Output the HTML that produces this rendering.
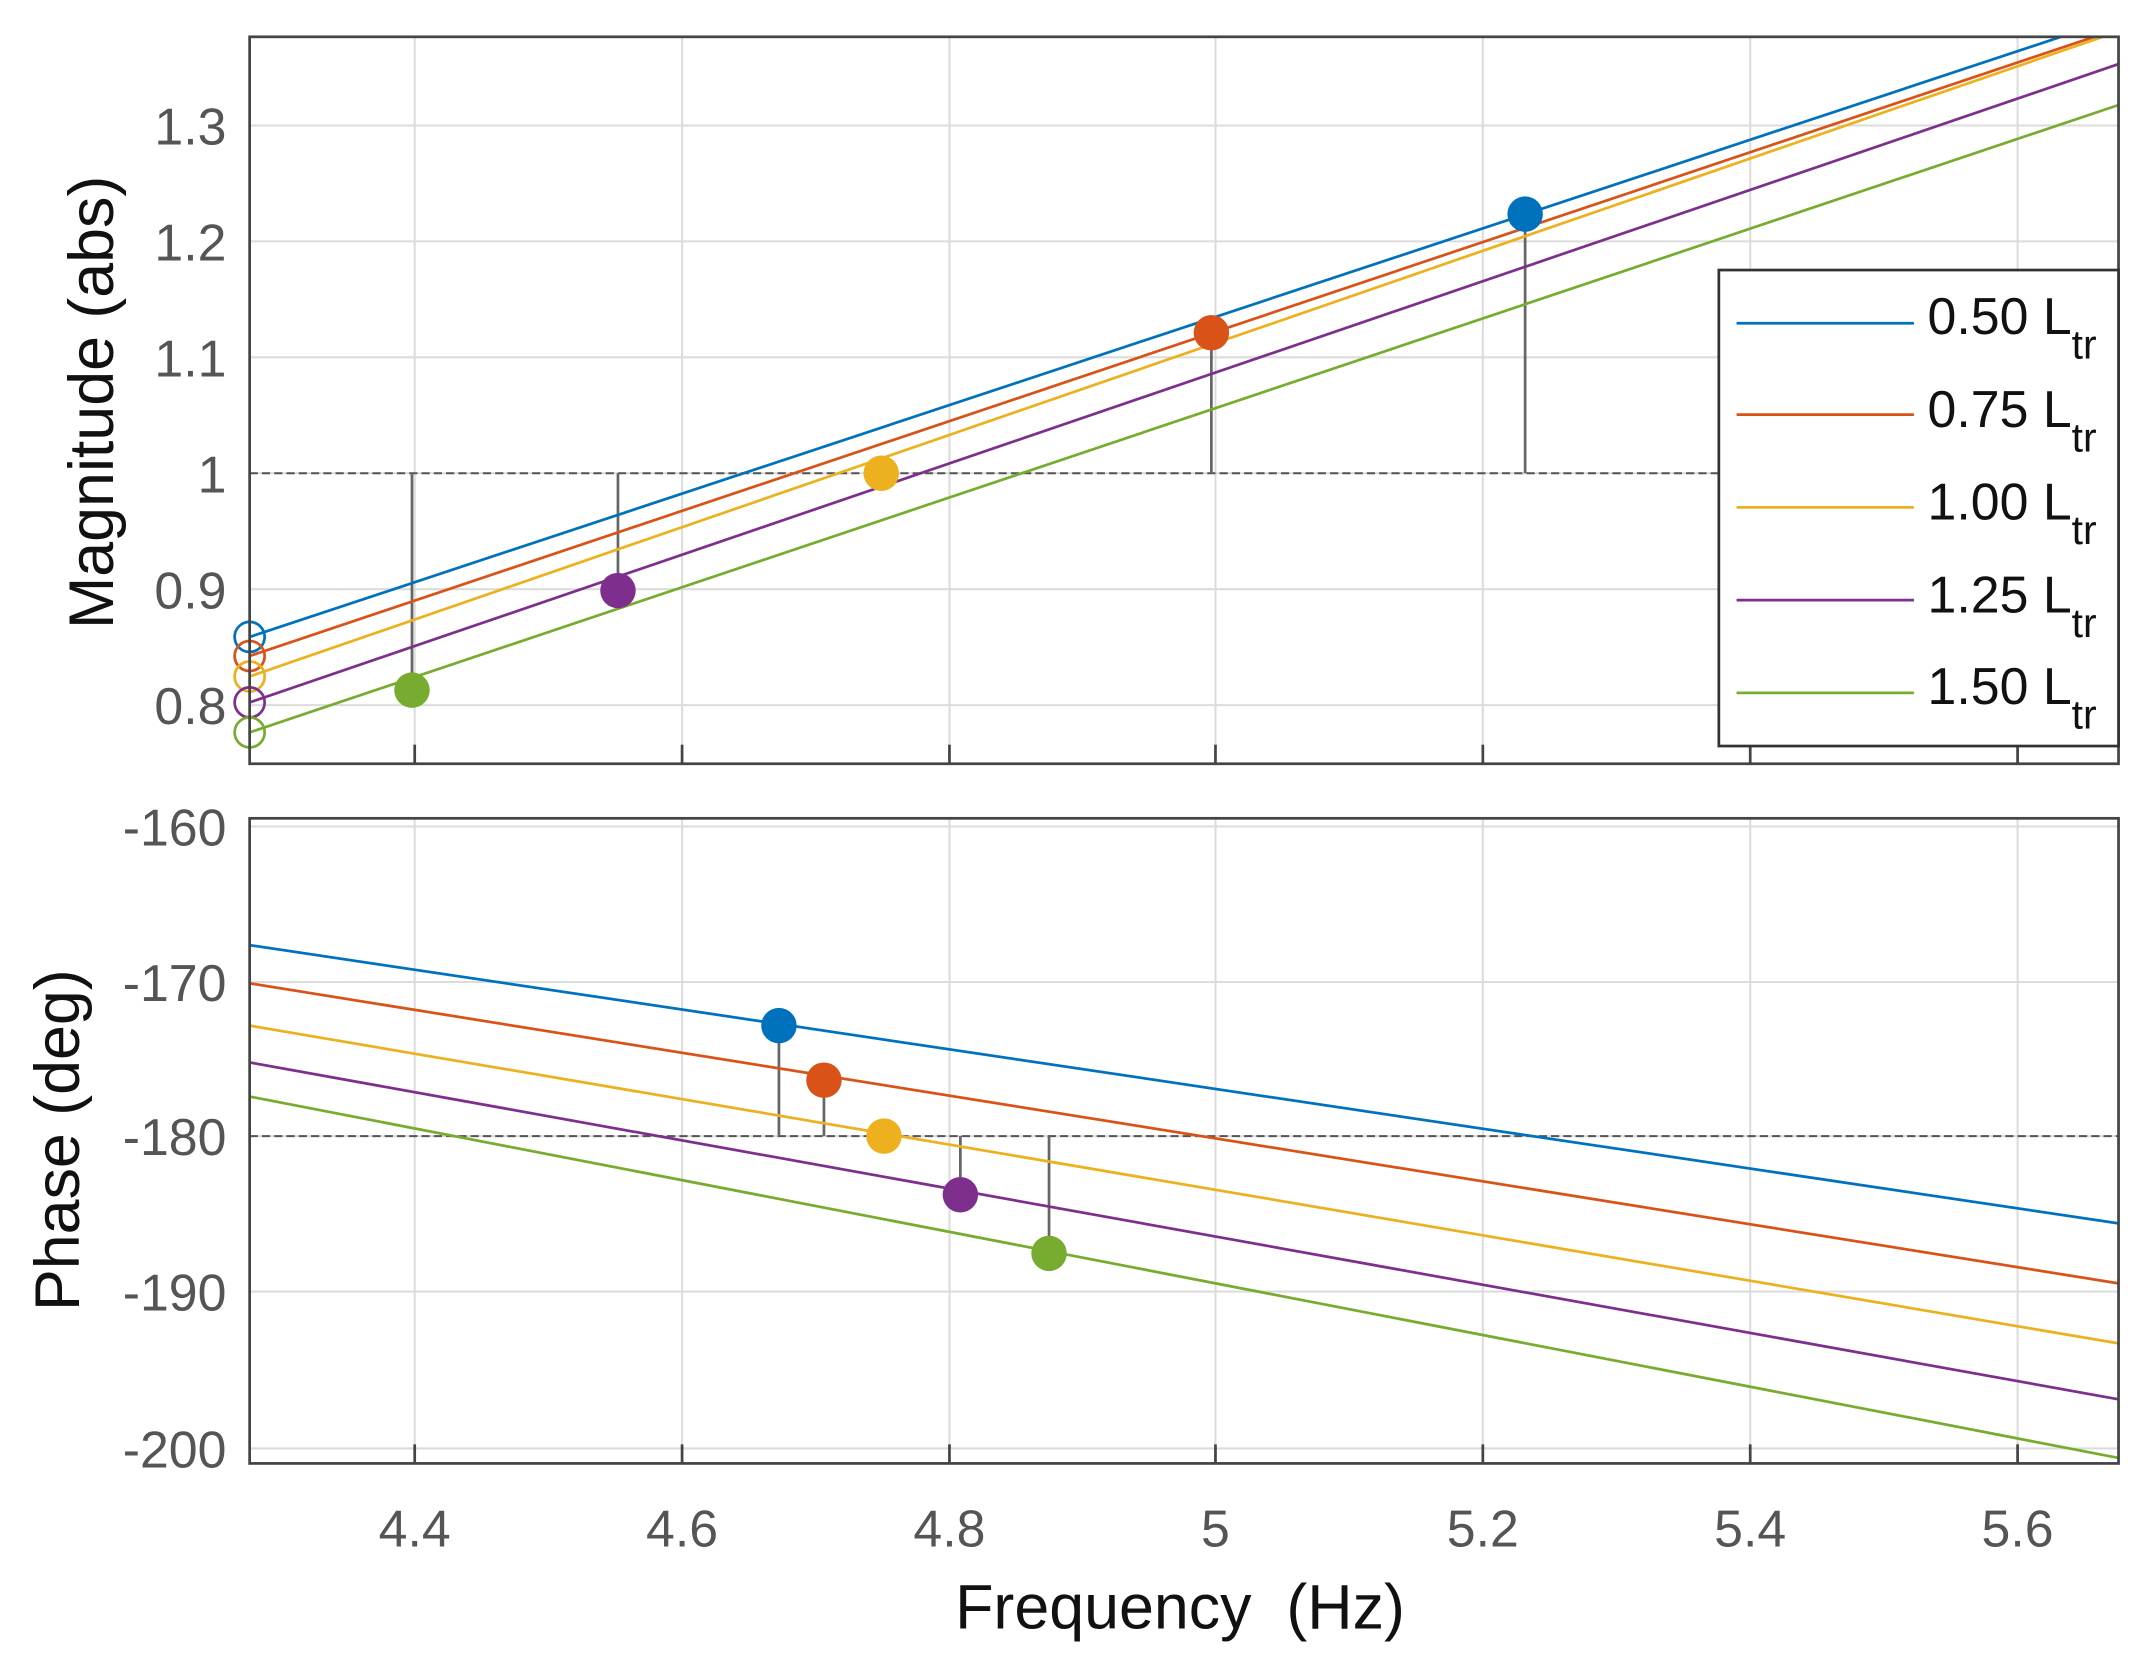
<!DOCTYPE html>
<html><head><style>html,body{margin:0;padding:0;background:#fff}svg{display:block}</style></head>
<body>
<svg width="2139" height="1668" viewBox="0 0 1568 1223" preserveAspectRatio="none" xmlns="http://www.w3.org/2000/svg" font-family="Liberation Sans, Arial, sans-serif">
<defs>
<clipPath id="ct"><rect x="183" y="27" width="1370" height="533"/></clipPath>
<clipPath id="cb"><rect x="183" y="600" width="1370" height="473"/></clipPath>
</defs>
<rect width="1568" height="1223" fill="#fff"/>
<g stroke="#dcdcdc" stroke-width="1.5">
<line x1="304" y1="27" x2="304" y2="560"/><line x1="500" y1="27" x2="500" y2="560"/><line x1="696" y1="27" x2="696" y2="560"/><line x1="891" y1="27" x2="891" y2="560"/><line x1="1087" y1="27" x2="1087" y2="560"/><line x1="1283" y1="27" x2="1283" y2="560"/><line x1="1479" y1="27" x2="1479" y2="560"/>
<line x1="183" y1="92" x2="1553" y2="92"/><line x1="183" y1="177" x2="1553" y2="177"/><line x1="183" y1="262" x2="1553" y2="262"/><line x1="183" y1="347" x2="1553" y2="347"/><line x1="183" y1="432" x2="1553" y2="432"/><line x1="183" y1="517" x2="1553" y2="517"/>
<line x1="304" y1="600" x2="304" y2="1073"/><line x1="500" y1="600" x2="500" y2="1073"/><line x1="696" y1="600" x2="696" y2="1073"/><line x1="891" y1="600" x2="891" y2="1073"/><line x1="1087" y1="600" x2="1087" y2="1073"/><line x1="1283" y1="600" x2="1283" y2="1073"/><line x1="1479" y1="600" x2="1479" y2="1073"/>
<line x1="183" y1="606" x2="1553" y2="606"/><line x1="183" y1="720" x2="1553" y2="720"/><line x1="183" y1="833" x2="1553" y2="833"/><line x1="183" y1="947" x2="1553" y2="947"/><line x1="183" y1="1062" x2="1553" y2="1062"/>
</g>
<line x1="183" y1="347" x2="1260" y2="347" stroke="#555" stroke-width="1.5" stroke-dasharray="6,3"/>
<line x1="183" y1="833" x2="1553" y2="833" stroke="#555" stroke-width="1.5" stroke-dasharray="6,3"/>
<g stroke="#666" stroke-width="2">
<line x1="302" y1="347" x2="302" y2="506"/><line x1="453" y1="347" x2="453" y2="433"/><line x1="888" y1="347" x2="888" y2="244"/><line x1="1118" y1="347" x2="1118" y2="157"/>
<line x1="571" y1="833" x2="571" y2="752"/><line x1="604" y1="833" x2="604" y2="792"/><line x1="704" y1="833" x2="704" y2="876"/><line x1="769" y1="833" x2="769" y2="919"/>
</g>
<g clip-path="url(#ct)" stroke-width="2" fill="none">
<line x1="183" y1="467" x2="1553" y2="13" stroke="#0072BD"/>
<line x1="183" y1="481" x2="1553" y2="21" stroke="#D95319"/>
<line x1="183" y1="496" x2="1553" y2="23" stroke="#EDB120"/>
<line x1="183" y1="515" x2="1553" y2="47" stroke="#7E2F8E"/>
<line x1="183" y1="537" x2="1553" y2="77" stroke="#77AC30"/>
</g>
<g fill="none" stroke-width="2">
<circle cx="183" cy="467" r="11" stroke="#0072BD"/>
<circle cx="183" cy="481" r="11" stroke="#D95319"/>
<circle cx="183" cy="496" r="11" stroke="#EDB120"/>
<circle cx="183" cy="515" r="11" stroke="#7E2F8E"/>
<circle cx="183" cy="537" r="11" stroke="#77AC30"/>
</g>
<circle cx="302" cy="506" r="13" fill="#77AC30"/>
<circle cx="453" cy="433" r="13" fill="#7E2F8E"/>
<circle cx="646" cy="347" r="13" fill="#EDB120"/>
<circle cx="888" cy="244" r="13" fill="#D95319"/>
<circle cx="1118" cy="157" r="13" fill="#0072BD"/>
<g clip-path="url(#cb)" stroke-width="2">
<line x1="183" y1="693" x2="1553" y2="897" stroke="#0072BD"/>
<line x1="183" y1="721" x2="1553" y2="941" stroke="#D95319"/>
<line x1="183" y1="752" x2="1553" y2="985" stroke="#EDB120"/>
<line x1="183" y1="779" x2="1553" y2="1026" stroke="#7E2F8E"/>
<line x1="183" y1="804" x2="1553" y2="1069" stroke="#77AC30"/>
</g>
<circle cx="571" cy="752" r="13" fill="#0072BD"/>
<circle cx="604" cy="792" r="13" fill="#D95319"/>
<circle cx="648" cy="833" r="13" fill="#EDB120"/>
<circle cx="704" cy="876" r="13" fill="#7E2F8E"/>
<circle cx="769" cy="919" r="13" fill="#77AC30"/>
<rect x="183" y="27" width="1370" height="533" fill="none" stroke="#444" stroke-width="2"/>
<rect x="183" y="600" width="1370" height="473" fill="none" stroke="#444" stroke-width="2"/>
<g stroke="#444" stroke-width="2">
<line x1="304" y1="560" x2="304" y2="546"/><line x1="500" y1="560" x2="500" y2="546"/><line x1="696" y1="560" x2="696" y2="546"/><line x1="891" y1="560" x2="891" y2="546"/><line x1="1087" y1="560" x2="1087" y2="546"/><line x1="1283" y1="560" x2="1283" y2="546"/><line x1="1479" y1="560" x2="1479" y2="546"/>
<line x1="304" y1="1073" x2="304" y2="1059"/><line x1="500" y1="1073" x2="500" y2="1059"/><line x1="696" y1="1073" x2="696" y2="1059"/><line x1="891" y1="1073" x2="891" y2="1059"/><line x1="1087" y1="1073" x2="1087" y2="1059"/><line x1="1283" y1="1073" x2="1283" y2="1059"/><line x1="1479" y1="1073" x2="1479" y2="1059"/>
</g>
<g fill="#555" font-size="38" text-anchor="end">
<text x="166" y="106">1.3</text><text x="166" y="191">1.2</text><text x="166" y="276">1.1</text><text x="166" y="361">1</text><text x="166" y="446">0.9</text><text x="166" y="531">0.8</text>
<text x="166" y="620">-160</text><text x="166" y="734">-170</text><text x="166" y="847">-180</text><text x="166" y="961">-190</text><text x="166" y="1076">-200</text>
</g>
<g fill="#555" font-size="38" text-anchor="middle">
<text x="304" y="1134">4.4</text><text x="500" y="1134">4.6</text><text x="696" y="1134">4.8</text><text x="891" y="1134">5</text><text x="1087" y="1134">5.2</text><text x="1283" y="1134">5.4</text><text x="1479" y="1134">5.6</text>
</g>
<text x="865" y="1194" font-size="46" text-anchor="middle" fill="#111">Frequency&#160;&#160;(Hz)</text>
<text transform="translate(83,295) rotate(-90)" font-size="46" text-anchor="middle" fill="#111">Magnitude (abs)</text>
<text transform="translate(58,836) rotate(-90)" font-size="46" text-anchor="middle" fill="#111">Phase (deg)</text>
<rect x="1260" y="198" width="293" height="349" fill="#fff" stroke="#333" stroke-width="2"/>
<g stroke-width="2">
<line x1="1273" y1="237" x2="1403" y2="237" stroke="#0072BD"/>
<line x1="1273" y1="304" x2="1403" y2="304" stroke="#D95319"/>
<line x1="1273" y1="372" x2="1403" y2="372" stroke="#EDB120"/>
<line x1="1273" y1="440" x2="1403" y2="440" stroke="#7E2F8E"/>
<line x1="1273" y1="508" x2="1403" y2="508" stroke="#77AC30"/>
</g>
<g font-size="38" fill="#111">
<text x="1413" y="245">0.50 L<tspan font-size="30" dy="18">tr</tspan></text>
<text x="1413" y="313">0.75 L<tspan font-size="30" dy="18">tr</tspan></text>
<text x="1413" y="381">1.00 L<tspan font-size="30" dy="18">tr</tspan></text>
<text x="1413" y="449">1.25 L<tspan font-size="30" dy="18">tr</tspan></text>
<text x="1413" y="516">1.50 L<tspan font-size="30" dy="18">tr</tspan></text>
</g>
</svg>
</body></html>
